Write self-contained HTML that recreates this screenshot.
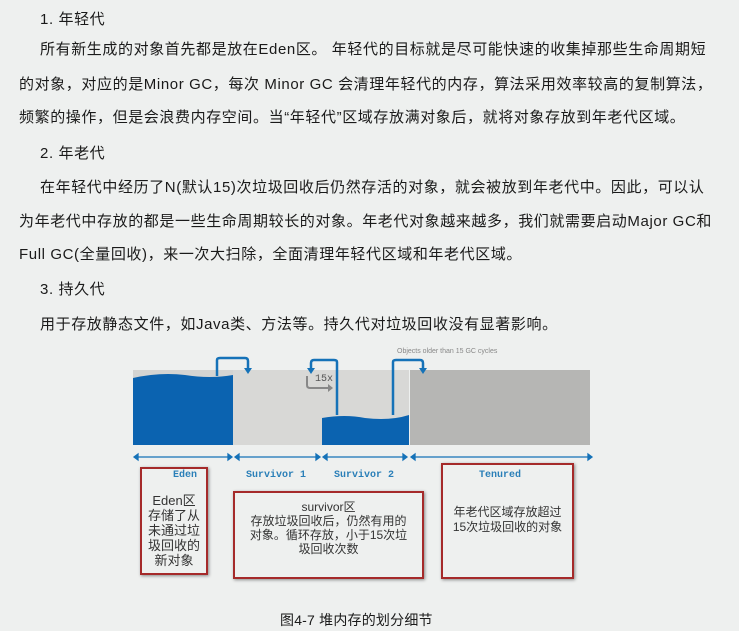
<!DOCTYPE html><html><head><meta charset="utf-8"><style>
body{margin:0;width:739px;height:631px;background:#eef0ef;position:relative;overflow:hidden;font-family:"Liberation Sans","Noto Sans CJK SC",sans-serif;color:#1a1a1a}
.t{position:absolute;font-size:15px;white-space:nowrap;letter-spacing:0.6px}
.box{position:absolute;border:2px solid #a52a2a;box-shadow:1px 1px 3px #888}
.lab{position:absolute;font-family:"Liberation Mono",monospace;font-size:10px;color:#2a7fb8;font-weight:bold}
.bt{position:absolute;font-size:13px;color:#333;text-align:center;line-height:15px}
</style></head><body>
<div class="t" style="left:40px;top:8px">1. 年轻代</div>
<div class="t" style="left:40px;top:38px">所有新生成的对象首先都是放在Eden区。 年轻代的目标就是尽可能快速的收集掉那些生命周期短</div>
<div class="t" style="left:19px;top:73px">的对象，对应的是Minor GC，每次 Minor GC 会清理年轻代的内存，算法采用效率较高的复制算法，</div>
<div class="t" style="left:19px;top:106px">频繁的操作，但是会浪费内存空间。当“年轻代”区域存放满对象后，就将对象存放到年老代区域。</div>
<div class="t" style="left:40px;top:142px">2. 年老代</div>
<div class="t" style="left:40px;top:176px">在年轻代中经历了N(默认15)次垃圾回收后仍然存活的对象，就会被放到年老代中。因此，可以认</div>
<div class="t" style="left:19px;top:210px">为年老代中存放的都是一些生命周期较长的对象。年老代对象越来越多，我们就需要启动Major GC和</div>
<div class="t" style="left:19px;top:243px">Full GC(全量回收)，来一次大扫除，全面清理年轻代区域和年老代区域。</div>
<div class="t" style="left:40px;top:278px">3. 持久代</div>
<div class="t" style="left:40px;top:313px">用于存放静态文件，如Java类、方法等。持久代对垃圾回收没有显著影响。</div>
<svg style="position:absolute;left:0;top:0" width="739" height="631">
<rect x="133" y="370" width="100" height="75" fill="#d4d4d2"/>
<path d="M133 378 Q160 372 185 375 Q210 379 233 375 L233 445 L133 445Z" fill="#0b63b0"/>
<rect x="233" y="370" width="89" height="75" fill="#d8d8d6"/>
<rect x="322" y="370" width="87" height="75" fill="#d8d8d6"/>
<path d="M322 418 Q345 414 365 418 Q390 421 409 415 L409 445 L322 445Z" fill="#0b63b0"/>
<rect x="410" y="370" width="180" height="75" fill="#b6b6b4"/>
<g fill="none" stroke="#1572b8" stroke-width="2.5">
<path d="M217 376 V360 Q217 358 220 358 H245 Q248 358 248 361 V370"/>
<path d="M337 415 V362 Q337 360 334 360 H314 Q311 360 311 363 V370"/>
<path d="M393 415 V362 Q393 360 396 360 H420 Q423 360 423 363 V370"/>
</g>
<g fill="#1572b8"><path d="M244 368 L252 368 L248 374Z"/><path d="M307 368 L315 368 L311 374Z"/><path d="M419 368 L427 368 L423 374Z"/></g>
<path d="M307 376 V385 Q307 388 310 388 H328" fill="none" stroke="#888" stroke-width="2"/>
<path d="M328 384 L333 388 L328 392Z" fill="#888"/>
<text x="315" y="381" font-family="Liberation Mono,monospace" font-size="10" fill="#555">15x</text>
<text x="397" y="353" font-family="Liberation Sans,sans-serif" font-size="7" fill="#888">Objects older than 15 GC cycles</text>
<g stroke="#1572b8" stroke-width="1.3" fill="#1572b8">
<line x1="136" y1="457" x2="230" y2="457"/><line x1="237" y1="457" x2="318" y2="457"/>
<line x1="325" y1="457" x2="405" y2="457"/><line x1="413" y1="457" x2="590" y2="457"/>
<path d="M134 457l4-3v6z M232 457l-4-3v6z M235 457l4-3v6z M320 457l-4-3v6z M323 457l4-3v6z M407 457l-4-3v6z M411 457l4-3v6z M592 457l-4-3v6z"/>
</g>
</svg>
<div class="lab" style="left:173px;top:470px">Eden</div>
<div class="lab" style="left:246px;top:470px">Survivor 1</div>
<div class="lab" style="left:334px;top:470px">Survivor 2</div>
<div class="lab" style="left:479px;top:470px">Tenured</div>
<div class="box" style="left:140px;top:467px;width:64px;height:104px"></div>
<div class="box" style="left:233px;top:491px;width:187px;height:84px"></div>
<div class="box" style="left:441px;top:463px;width:129px;height:112px"></div>
<div class="bt" style="left:142px;top:493px;width:64px">Eden区<br>存储了从<br>未通过垃<br>圾回收的<br>新对象</div>
<div class="bt" style="left:235px;top:500px;width:187px;line-height:14px;font-size:12px">survivor区<br>存放垃圾回收后，仍然有用的<br>对象。循环存放，小于15次垃<br>圾回收次数</div>
<div class="bt" style="left:443px;top:505px;width:129px;font-size:12px">年老代区域存放超过<br>15次垃圾回收的对象</div>
<div class="t" style="left:280px;top:610px;font-size:14px;letter-spacing:0.2px">图4-7 堆内存的划分细节</div>
</body></html>
